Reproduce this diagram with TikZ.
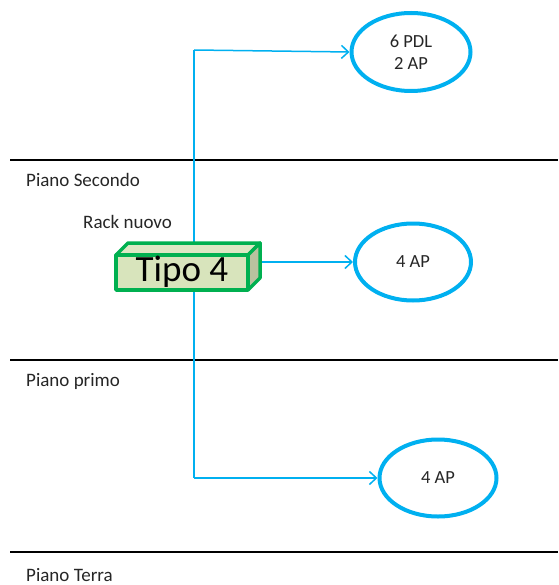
\documentclass[tikz,border=0pt]{standalone}
\usepackage{fontspec}
\setmainfont{Carlito}
\usetikzlibrary{arrows.meta,shapes.geometric}
\definecolor{cblue}{HTML}{00B0F0}
\definecolor{cgreen}{HTML}{00B050}
\definecolor{gfront}{HTML}{D8E4BC}
\definecolor{gside}{HTML}{B9C29F}
\definecolor{gtop}{HTML}{DDE7C4}
\definecolor{txt}{HTML}{262626}
\begin{document}
\begin{tikzpicture}[x=1pt,y=-1pt,
  floorline/.style={line width=1.5pt,black},
  floorlbl/.style={anchor=west,inner sep=0pt,font=\fontsize{19}{22}\selectfont,text=txt},
  link/.style={cblue,line width=1.5pt},
  arr/.style={link,-{Straight Barb[length=7pt,width=13pt,line width=1.5pt]}},
  cloud/.style={ellipse,draw=cblue,line width=4pt,fill=white,text=txt,font=\fontsize{18.5}{22}\selectfont,align=center,inner sep=0pt},
  rackedge/.style={cgreen,line width=3.5pt,line join=round}
]
\useasboundingbox (0,0) rectangle (558,585);
% floors
\draw[floorline] (10,160) -- (558,160);
\draw[floorline] (10,360) -- (558,360);
\draw[floorline] (10,552) -- (558,552);
\node[floorlbl] (l2) at (26,180) {Piano Secondo};
\node[floorlbl] (l1) at (26,381) {Piano primo};
\node[floorlbl] (l0) at (26,575) {Piano Terra};
\node[floorlbl] (rack) at (83,222) {Rack nuovo};
% connectors (behind box)
\coordinate (top) at (194,50);
\coordinate (bot) at (194,478);
\draw[link] (top) -- (bot);
% ellipses
\node[cloud,minimum width=119pt,minimum height=78pt] (e1) at (411,52) {6 PDL\\2 AP};
\node[cloud,minimum width=116pt,minimum height=77pt] (e2) at (413,262) {4 AP};
\node[cloud,minimum width=117pt,minimum height=77pt] (e3) at (438,478) {4 AP};
% box
\draw[rackedge,fill=gtop] (116,255) -- (128,243) -- (260,243) -- (248,255) -- cycle;
\draw[rackedge,fill=gside] (248,255) -- (260,243) -- (260,278) -- (248,290) -- cycle;
\draw[rackedge,fill=gfront] (116,255) rectangle (248,290);
\node[font=\fontsize{37}{40}\selectfont,inner sep=0pt] (box) at (182,272) {Tipo 4};
\coordinate (boxr) at (262,262);
% arrows
\draw[arr] (top) -- (e1.west);
\draw[arr] (boxr) -- (e2.west);
\draw[arr] (bot) -- (e3.west);
\end{tikzpicture}
\end{document}
